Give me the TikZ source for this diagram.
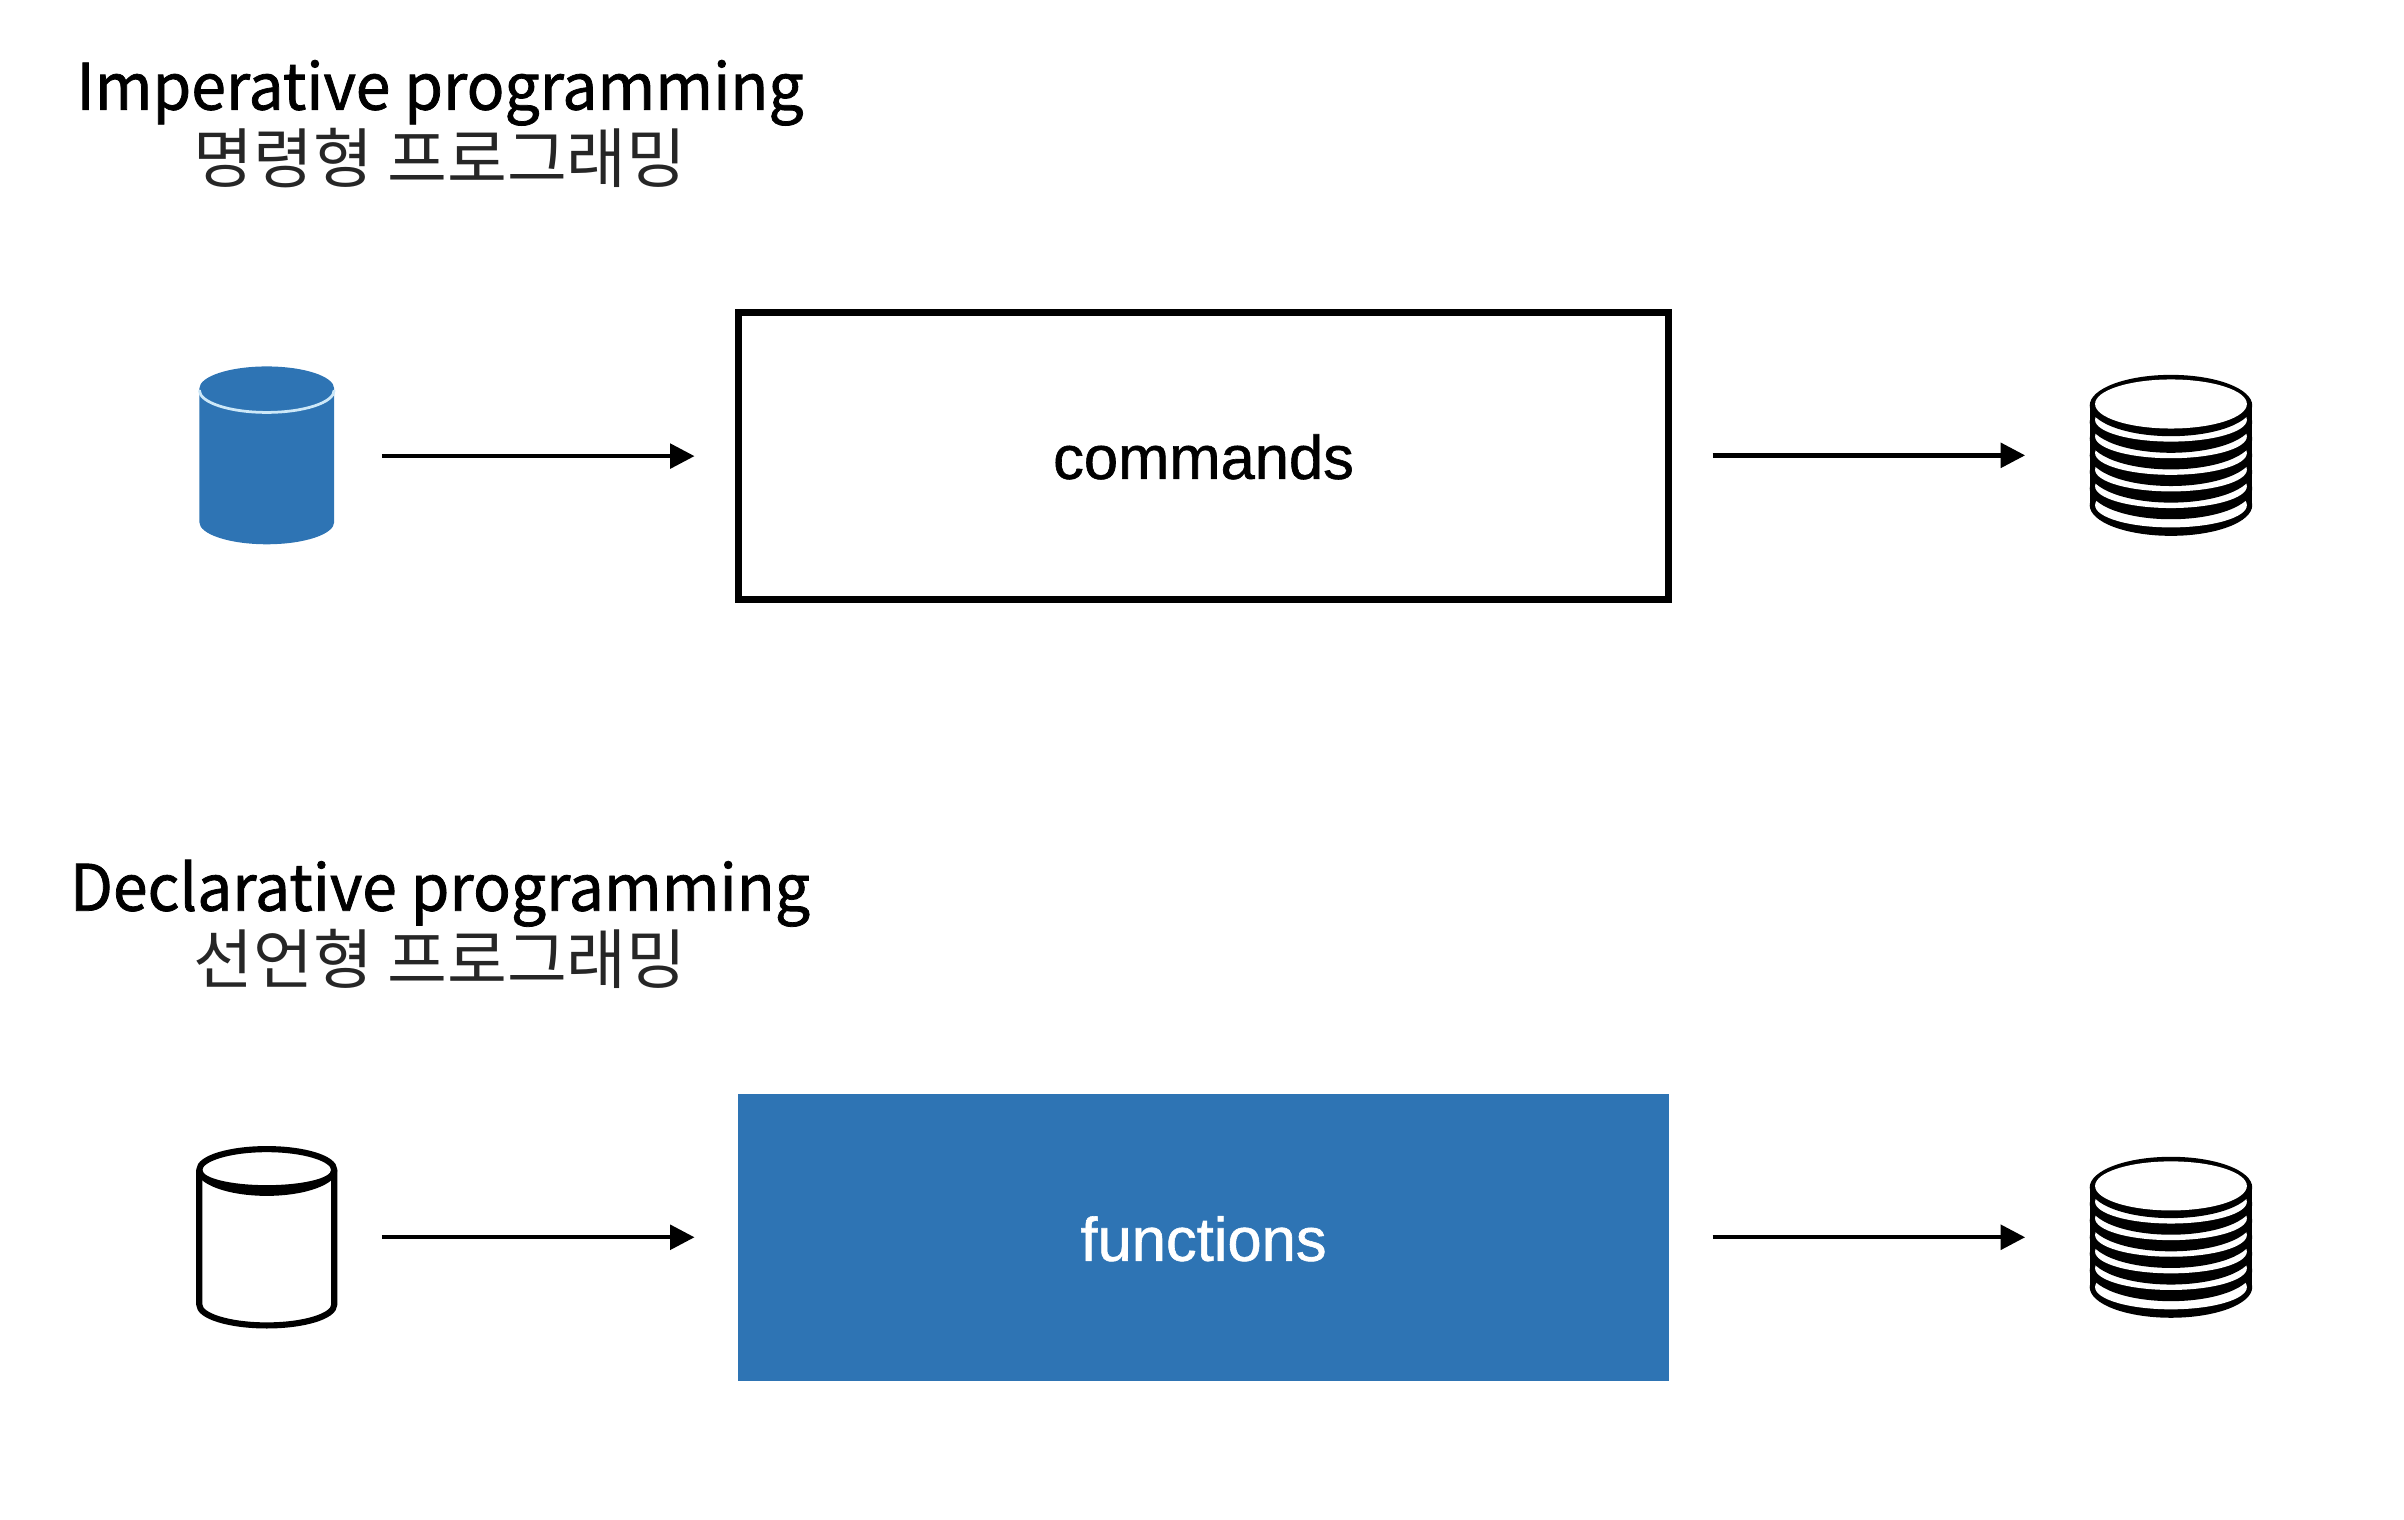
\documentclass[tikz,border=0pt]{standalone}
\usepackage{fontspec}
\usetikzlibrary{arrows.meta}
\setmainfont{Liberation Sans}
\newfontfamily\boxfont[FakeBold=1]{Liberation Sans}
\newfontfamily\titlefont[FakeBold=1.2]{Noto Sans CJK KR}
\newfontfamily\krfont{Noto Sans CJK KR}
\definecolor{dblue}{RGB}{46,116,180}
\definecolor{rimblue}{RGB}{205,232,248}
\def\U{1.5332pt}
\tikzset{
  boxnode/.style={rectangle,inner sep=0pt,outer sep=0pt,minimum width=607*\U,minimum height=187*\U},
  boxtext/.style={inner sep=0pt,font=\boxfont\fontsize{61.5}{70}\selectfont},
  dbnode/.style={rectangle,inner sep=0pt,minimum width=90*\U,minimum height=118*\U},
  stacknode/.style={rectangle,inner sep=0pt,minimum width=106*\U,minimum height=105*\U},
  flow/.style={line width=2.8*\U,-{Triangle[length=16*\U,width=16*\U]},shorten <=30*\U,shorten >=28.5*\U},
  flowb/.style={line width=2.8*\U,-{Triangle[length=16*\U,width=16*\U]},shorten <=28.5*\U,shorten >=42*\U},
  title/.style={inner sep=0pt,font=\titlefont\fontsize{64}{70}\selectfont,xscale=0.976,transform shape,anchor=base},
  subtitle/.style={inner sep=0pt,font=\krfont\fontsize{65}{70}\selectfont,text=black!85,anchor=base}
}
\newcommand{\stackdb}[1]{%
  \begin{scope}[shift={(#1)}]
    \fill[black] (-53,-33) -- (53,-33) -- (53,32) -- (-53,32) -- cycle;
    \fill[black] (0,32.5) ellipse [x radius=53,y radius=20];
    \fill[white] (0,32.5) ellipse [x radius=49.5,y radius=14.5];
    \foreach \c in {21.67,10.83,0,-10.83,-21.67}{
      \fill[black] (0,\c) ellipse [x radius=53,y radius=20];
      \fill[white] (0,\c-1.5) ellipse [x radius=49.5,y radius=14.2];
    }
    \fill[black] (0,-32.5) ellipse [x radius=53,y radius=20];
    \fill[white] (0,-33.5) ellipse [x radius=49.5,y radius=16];
  \end{scope}}
\begin{document}
\begin{tikzpicture}[x=1.5332pt,y=-1.5332pt]
\useasboundingbox (0,0) rectangle (1568,991.4);
% titles
\node[title] (t1) at (287,71.5) {Imperative programming};
\node[subtitle] (s1) at (287,119) {명령형 프로그래밍};
\node[title] (t2) at (287,594) {Declarative programming};
\node[subtitle] (s2) at (287,641.5) {선언형 프로그래밍};
% boxes
\node[boxnode,draw=black,line width=4.5*\U] (cmd) at (785,297.5) {};
\node[boxtext] (cmdt) at (785,298) {commands};
\node[boxnode,fill=dblue] (fun) at (785,807) {};
\node[boxtext,text=white] (funt) at (785,808) {functions};
% blue cylinder
\node[dbnode] (db1) at (174,297.5) {};
\fill[dblue] (130,253.5) -- (130,340.5) arc[start angle=180,end angle=0,x radius=44,y radius=14.5] -- (218,253.5) arc[start angle=0,end angle=-180,x radius=44,y radius=14.5] -- cycle;
\draw[rimblue,line width=1.8*\U] (130,254.5) arc[start angle=180,end angle=0,x radius=44,y radius=14.5];
% outline cylinder
\node[dbnode] (db2) at (174,807) {};
\draw[black,line width=4*\U,line join=round] (130,763) -- (130,851) arc[start angle=180,end angle=0,x radius=44,y radius=13.5] -- (218,763) arc[start angle=0,end angle=-180,x radius=44,y radius=13.5] -- cycle;
\fill[black] (128,763) arc[start angle=180,end angle=0,x radius=46,y radius=17] -- (220,763) -- (216,763) arc[start angle=0,end angle=180,x radius=42,y radius=10] -- cycle;
% stacks
\stackdb{1416,297}
\node[stacknode] (st1) at (1416,297) {};
\stackdb{1416,807}
\node[stacknode] (st2) at (1416,807) {};
% connectors
\draw[flow] (db1.east) -- (db1.east -| cmd.west);
\draw[flow] (db2.east) -- (fun.west);
\draw[flowb] (cmd.east |- st1.west) -- (st1.west);
\draw[flowb] (fun.east) -- (st2.west);
\end{tikzpicture}
\end{document}
